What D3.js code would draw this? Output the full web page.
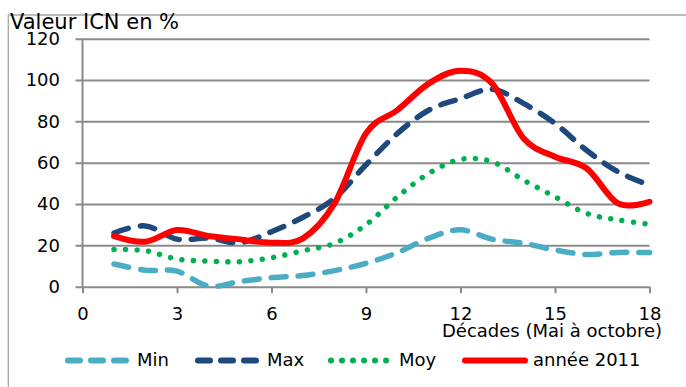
<!DOCTYPE html>
<html>
<head>
<meta charset="utf-8">
<script src="https://cdn.jsdelivr.net/npm/d3@7"></script>
<style>
  html, body { margin: 0; padding: 0; background: #fff; }
  svg { display: block; }
  text { font-family: "DejaVu Sans", sans-serif; fill: #000; }
</style>
</head>
<body>
<svg id="chart" width="686" height="387"></svg>
<script>
// ---- data ----
const decades = [1,2,3,4,5,6,7,8,9,10,11,12,13,14,15,16,17,18];
const minValues  = [11, 8, 7.5, 0.3, 2.5, 4.4, 5.4, 7.8, 11.3, 16.5, 23.5, 27.5, 23, 21, 17.8, 15.6, 16.6, 16.5];
const maxValues  = [26, 29.4, 23, 23.5, 21.3, 26.6, 33.6, 42.8, 59, 74.2, 85.5, 91, 95.5, 88.7, 79, 66, 55.6, 49.2];
const moyValues  = [18, 17.4, 13.4, 12.4, 12.1, 14, 17.4, 21, 30, 43.5, 54.9, 61.6, 60.5, 51.6, 43.5, 35.5, 32.3, 30.2];
const y2011Values = [24.5, 21.8, 27.4, 24.5, 22.9, 21.3, 23.4, 40.3, 74.2, 85.5, 98.4, 104.5, 98.4, 71.8, 62.9, 57.3, 40.3, 41.1];
const xTicks = [0,3,6,9,12,15,18];
const yTicks = [0,20,40,60,80,100,120];
const seriesNames = ["Min", "Max", "Moy", "année 2011"];
const yTitle = "Valeur ICN en %";
const xTitle = "Décades (Mai à octobre)";

const series = [
  {name: seriesNames[0], values: minValues, color: "#4BACC6", dash: "15,12", width: 5.5},
  {name: seriesNames[1], values: maxValues, color: "#1F497D", dash: "15,12", width: 5.5},
  {name: seriesNames[2], values: moyValues, color: "#00B050", dash: "0.01,11.5", width: 5.5},
  {name: seriesNames[3], values: y2011Values, color: "#FF0000", dash: null, width: 6}
];

const svg = d3.select("#chart");
const x = d3.scaleLinear().domain([0, 18]).range([82.5, 649.5]);
const y = d3.scaleLinear().domain([0, 120]).range([286.7, 38.7]);
const gridColor = "#8a8a8a";

// outer frame (top and left)
svg.append("line").attr("x1", 8.3).attr("x2", 686).attr("y1", 15).attr("y2", 15)
  .attr("stroke", "#a6a6a6").attr("stroke-width", 1.3);
svg.append("line").attr("x1", 8.3).attr("x2", 8.3).attr("y1", 15).attr("y2", 387)
  .attr("stroke", "#a6a6a6").attr("stroke-width", 1.3);

// y axis with gridlines
const W = x(18) - x(0);
const yAxis = svg.append("g").attr("transform", `translate(${x(0)},0)`)
  .call(d3.axisLeft(y).tickValues(yTicks).tickSize(7).tickPadding(15.5).tickSizeOuter(0));
yAxis.select(".domain").remove();
yAxis.selectAll(".tick line").attr("x1", -7).attr("x2", W).attr("stroke", gridColor).attr("stroke-width", 2);
yAxis.selectAll(".tick text").attr("font-size", 18).attr("font-family", "DejaVu Sans").attr("fill", "#000");

// vertical axis line
svg.append("line").attr("x1", x(0)).attr("x2", x(0)).attr("y1", y(120)).attr("y2", y(0))
  .attr("stroke", gridColor).attr("stroke-width", 2);

// x axis
const xAxis = svg.append("g").attr("transform", `translate(0,${y(0)})`)
  .call(d3.axisBottom(x).tickValues(xTicks).tickSize(6.5).tickPadding(14.5).tickSizeOuter(0));
xAxis.select(".domain").remove();
xAxis.selectAll(".tick line").attr("stroke", gridColor).attr("stroke-width", 2);
xAxis.selectAll(".tick text").attr("font-size", 18).attr("font-family", "DejaVu Sans").attr("fill", "#000");

// lines
const line = d3.line().x((d, i) => x(decades[i])).y(d => y(d)).curve(d3.curveCardinal.tension(0));
series.forEach(s => {
  const p = svg.append("path").datum(s.values)
    .attr("d", line)
    .attr("fill", "none")
    .attr("stroke", s.color)
    .attr("stroke-width", s.width)
    .attr("stroke-linecap", "round")
    .attr("stroke-linejoin", "round");
  if (s.dash) p.attr("stroke-dasharray", s.dash);
});

// titles
svg.append("text").attr("x", 10).attr("y", 29).attr("font-size", 21).text(yTitle);
svg.append("text").attr("x", 662).attr("y", 337).attr("font-size", 18).attr("text-anchor", "end").text(xTitle);

// legend
const legendY = 360.5;
const legendItems = [
  {s: series[0], x1: 68, x2: 127, tx: 137, dash: "12,11"},
  {s: series[1], x1: 198, x2: 256, tx: 267, dash: "12,11"},
  {s: series[2], x1: 331, x2: 387, tx: 399, dash: "0.01,11"},
  {s: series[3], x1: 465, x2: 525, tx: 533, dash: null}
];
const lg = svg.append("g").selectAll("g").data(legendItems).join("g");
lg.append("line")
  .attr("x1", d => d.x1).attr("x2", d => d.x2)
  .attr("y1", legendY).attr("y2", legendY)
  .attr("stroke", d => d.s.color)
  .attr("stroke-width", 6)
  .attr("stroke-linecap", "round")
  .attr("stroke-dasharray", d => d.dash);
lg.append("text")
  .attr("x", d => d.tx).attr("y", 366)
  .attr("font-size", 18)
  .text(d => d.s.name);
</script>
</body>
</html>
